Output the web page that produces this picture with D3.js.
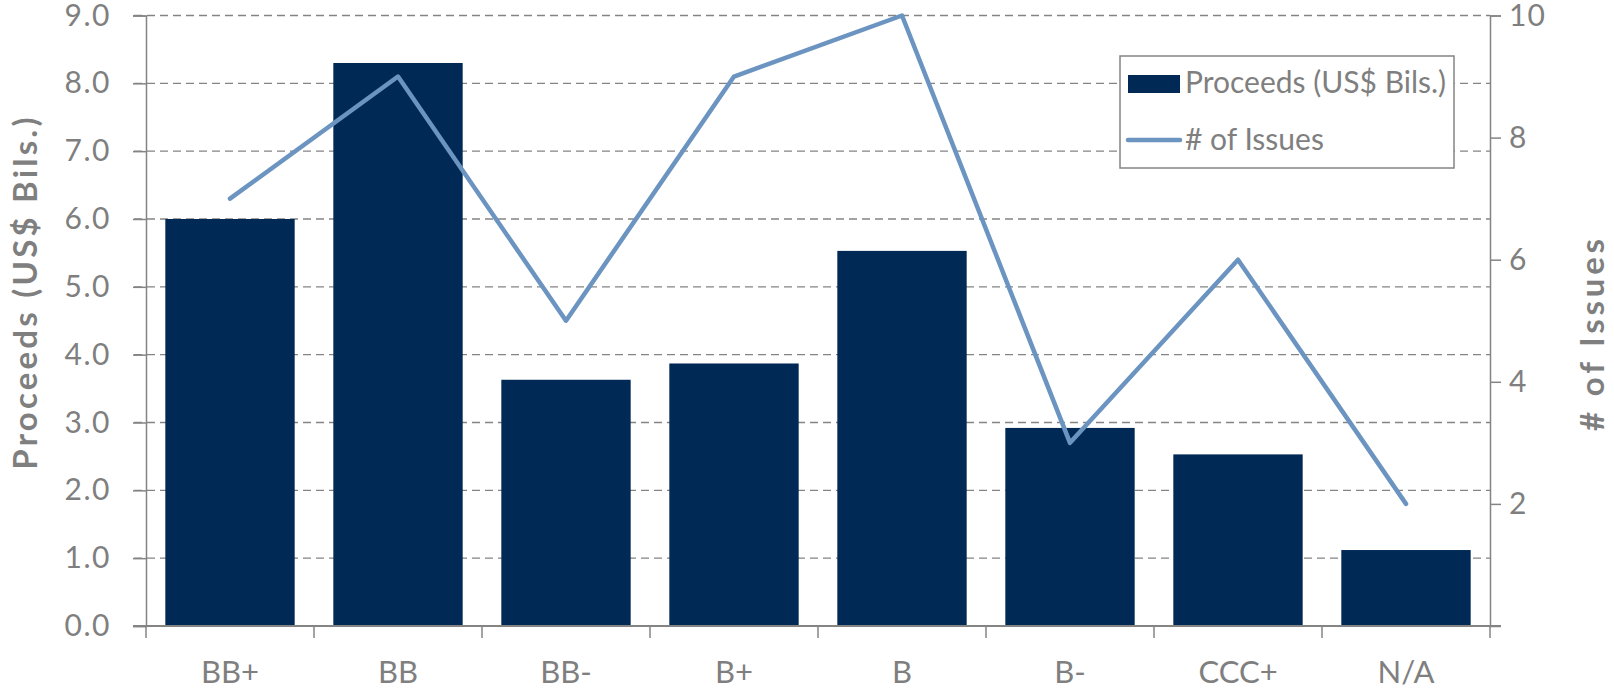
<!DOCTYPE html>
<html><head><meta charset="utf-8">
<script src="https://cdn.jsdelivr.net/npm/d3@7/dist/d3.min.js"></script>
<style>body{margin:0;background:#fff;} svg{display:block;} text{font-family:Lato,"Open Sans",sans-serif;fill:#7f7f7f;}</style>
</head><body><svg id="c" width="1614" height="691"></svg>
<script>
const categories = ["BB+","BB","BB-","B+","B","B-","CCC+","N/A"];
const proceeds = [6.0, 8.3, 3.63, 3.87, 5.53, 2.92, 2.53, 1.12];
const issues = [7, 9, 5, 9, 10, 3, 6, 2];
const leftTicks = [0,1,2,3,4,5,6,7,8,9];
const rightTicks = [2,4,6,8,10];

const svg = d3.select("#c");
const L = 146, R = 1490, T = 15.5, B = 626;
const gray = "#848484";

const x = d3.scaleBand().domain(categories).range([L, R]).paddingInner(0.23).paddingOuter(0.115);
const yL = d3.scaleLinear().domain([0, 9]).range([B, T]);
const yR = d3.scaleLinear().domain([0, 10]).range([B, T]);

// gridlines
svg.append("g").selectAll("line").data(leftTicks.filter(d => d > 0)).join("line")
  .attr("x1", L - 12).attr("x2", R).attr("y1", d => yL(d)).attr("y2", d => yL(d))
  .attr("stroke", gray).attr("stroke-width", 1.4).attr("stroke-dasharray", "8,5");

// bars
svg.append("g").selectAll("rect").data(categories).join("rect")
  .attr("x", d => x(d)).attr("width", x.bandwidth())
  .attr("y", (d, i) => yL(proceeds[i])).attr("height", (d, i) => B - yL(proceeds[i]))
  .attr("fill", "#002a55");

// left axis
const axL = svg.append("g").attr("transform", `translate(${L},0)`)
  .call(d3.axisLeft(yL).tickValues(leftTicks).tickFormat(d3.format(".1f")).tickSize(13).tickPadding(22));
axL.select(".domain").attr("stroke", gray).attr("stroke-width", 1.5);
axL.selectAll(".tick line").attr("stroke", gray).attr("stroke-width", 1.5);
axL.selectAll(".tick text").attr("font-size", 30).attr("letter-spacing", 1.5).attr("fill", "#7f7f7f").attr("font-family", "Lato");

// right axis
const axR = svg.append("g").attr("transform", `translate(${R},0)`)
  .call(d3.axisRight(yR).tickValues(rightTicks).tickSize(11).tickPadding(8));
axR.select(".domain").attr("stroke", gray).attr("stroke-width", 1.5);
axR.selectAll(".tick line").attr("stroke", gray).attr("stroke-width", 1.5);
axR.selectAll(".tick text").attr("font-size", 30).attr("letter-spacing", 1).attr("fill", "#7f7f7f").attr("font-family", "Lato");

// bottom axis
const axB = svg.append("g").attr("transform", `translate(0,${B})`)
  .call(d3.axisBottom(x).tickSize(0).tickPadding(35));
axB.select(".domain").remove();
axB.selectAll(".tick text").attr("font-size", 31).attr("fill", "#7f7f7f").attr("font-family", "Lato");
svg.append("line").attr("x1", L - 13).attr("x2", R + 11).attr("y1", B).attr("y2", B)
  .attr("stroke", gray).attr("stroke-width", 2.2);
const step = x.step();
svg.append("g").selectAll("line").data(d3.range(categories.length + 1)).join("line")
  .attr("x1", i => L + i * step).attr("x2", i => L + i * step)
  .attr("y1", B).attr("y2", B + 12).attr("stroke", gray).attr("stroke-width", 1.5);

// line
const line = d3.line().x((d, i) => x(categories[i]) + x.bandwidth() / 2).y(d => yR(d));
svg.append("path").datum(issues).attr("d", line).attr("fill", "none")
  .attr("stroke", "#6b94c1").attr("stroke-width", 4.5).attr("stroke-linejoin", "round").attr("stroke-linecap", "round");

// axis titles
svg.append("text").attr("transform", `translate(37,292) rotate(-90)`).attr("text-anchor", "middle")
  .attr("font-size", 33).attr("font-weight", "bold").attr("letter-spacing", 3.2).text("Proceeds (US$ Bils.)");
svg.append("text").attr("transform", `translate(1604,333) rotate(-90)`).attr("text-anchor", "middle")
  .attr("font-size", 33).attr("font-weight", "bold").attr("letter-spacing", 3.8).text("# of Issues");

// legend
const lg = svg.append("g");
lg.append("rect").attr("x", 1120).attr("y", 56).attr("width", 334).attr("height", 112)
  .attr("fill", "#fff").attr("stroke", gray).attr("stroke-width", 1.5);
lg.append("rect").attr("x", 1128).attr("y", 75).attr("width", 52).attr("height", 18).attr("fill", "#002a55");
lg.append("text").attr("x", 1185).attr("y", 93).attr("font-size", 30).text("Proceeds (US$ Bils.)");
lg.append("line").attr("x1", 1128).attr("x2", 1180).attr("y1", 140).attr("y2", 140)
  .attr("stroke", "#6b94c1").attr("stroke-width", 4.5).attr("stroke-linecap", "round");
lg.append("text").attr("x", 1185).attr("y", 150).attr("font-size", 30).text("# of Issues");
</script></body></html>
